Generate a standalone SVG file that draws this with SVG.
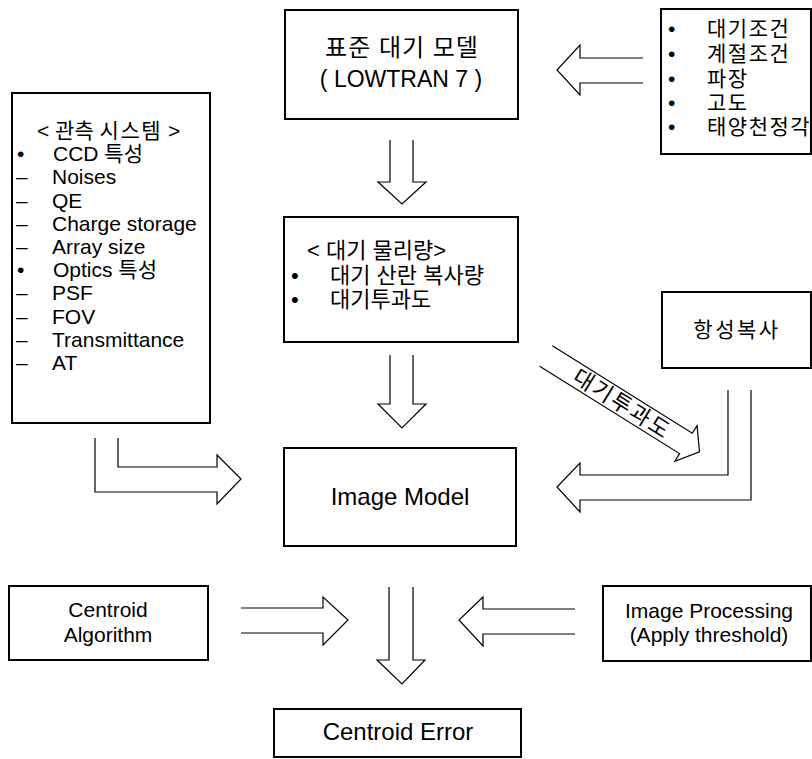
<svg xmlns="http://www.w3.org/2000/svg" width="812" height="759" viewBox="0 0 812 759">
<style>
.box{fill:#fff;stroke:#000;stroke-width:2}
.arr{fill:#fff;stroke:#000;stroke-width:1.2;stroke-linejoin:miter}
text{font-family:"Liberation Sans","Noto Sans CJK KR",sans-serif;fill:#000}
.c{text-anchor:middle}
.f21{font-size:21px}
.f22{font-size:22px}
.f24{font-size:24px}
.f20{font-size:20px}
.ko{letter-spacing:1.5px}
</style>
<rect width="812" height="759" fill="#fff"/>
<g id="connectors">
<polyline class="arr" points="643,58 580,58 580,45 557,70 580,95 580,83 643,83"/>
<polyline class="arr" points="390,140 390,182 378,182 402,204 426,182 413,182 413,140"/>
<polyline class="arr" points="390,355 390,404 378,404 402,428 426,404 413,404 413,355"/>
<polyline class="arr" points="95,438 95,492 217,492 217,504 241,479 217,455 217,467 118,467 118,438"/>
<polyline class="arr" points="728,390 728,475 580,475 580,463 557,487 580,512 580,500 751,500 751,390"/>
<g transform="translate(546,356) rotate(32)">
<polyline class="arr" points="0,-12 165,-12 165,-21 181,0 165,21 165,12 0,12"/>
<text class="c" x="90" y="8" font-size="22" letter-spacing="2">대기투과도</text>
</g>
<polyline class="arr" points="241,608 323,608 323,597 348,620 323,645 323,633 241,633"/>
<polyline class="arr" points="575,609 483,609 483,597 459,620 483,646 483,634 575,634"/>
<polyline class="arr" points="389,587 389,660 377,660 402,684 425,660 413,660 413,587"/>
</g>
<g id="n_std">
<rect class="box" x="285" y="10" width="233" height="109"/>
<text class="c f24" x="402" y="56" letter-spacing="1">표준 대기 모델</text>
<text class="c" x="401" y="87" font-size="23">( LOWTRAN 7 )</text>
</g>
<g id="n_cond">
<rect class="box" x="661" y="9" width="150" height="145"/>
<g font-size="21">
<text x="668" y="36">•</text><text class="ko" x="707" y="36">대기조건</text>
<text x="668" y="61">•</text><text class="ko" x="707" y="61">계절조건</text>
<text x="668" y="86">•</text><text class="ko" x="707" y="86">파장</text>
<text x="668" y="110">•</text><text class="ko" x="707" y="110">고도</text>
<text x="668" y="134">•</text><text class="ko" x="707" y="134">태양천정각</text>
</g>
</g>
<g id="n_obs">
<rect class="box" x="12" y="93" width="198" height="330"/>
<g class="f21">
<text x="37" y="138">&lt; 관측 <tspan letter-spacing="1.5">시스템</tspan> &gt;</text>
<text x="17" y="161">•</text><text x="53" y="161">CCD 특성</text>
<text x="16" y="184">–<tspan x="52">Noises</tspan></text>
<text x="16" y="208">–<tspan x="52">QE</tspan></text>
<text x="16" y="231">–<tspan x="52">Charge storage</tspan></text>
<text x="16" y="254">–<tspan x="52">Array size</tspan></text>
<text x="17" y="277">•</text><text x="53" y="277">Optics 특성</text>
<text x="16" y="300">–<tspan x="52">PSF</tspan></text>
<text x="16" y="324">–<tspan x="52">FOV</tspan></text>
<text x="16" y="347">–<tspan x="52">Transmittance</tspan></text>
<text x="16" y="370">–<tspan x="52">AT</tspan></text>
</g>
</g>
<g id="n_atm">
<rect class="box" x="284" y="217" width="234" height="125"/>
<g class="f22">
<text x="307" y="258">&lt; 대기 물리량&gt;</text>
<text x="291" y="283">•</text><text x="330" y="283">대기 산란 복사량</text>
<text x="291" y="307">•</text><text x="330" y="307">대기투과도</text>
</g>
</g>
<g id="n_star">
<rect class="box" x="662" y="292" width="149" height="76"/>
<text class="c f21" x="737" y="337" letter-spacing="2.5">항성복사</text>
</g>
<g id="n_image">
<rect class="box" x="284" y="448" width="232" height="98"/>
<text class="c f24" x="400" y="505">Image Model</text>
</g>
<g id="n_alg">
<rect class="box" x="9" y="586" width="199" height="74"/>
<text class="c f21" x="108" y="617">Centroid</text>
<text class="c f21" x="108" y="642">Algorithm</text>
</g>
<g id="n_proc">
<rect class="box" x="603" y="586" width="208" height="75"/>
<text class="c f21" x="709" y="618">Image Processing</text>
<text class="c f21" x="709" y="642">(Apply threshold)</text>
</g>
<g id="n_err">
<rect class="box" x="274" y="709" width="247" height="48"/>
<text class="c f24" x="398" y="740">Centroid Error</text>
</g>
</svg>
